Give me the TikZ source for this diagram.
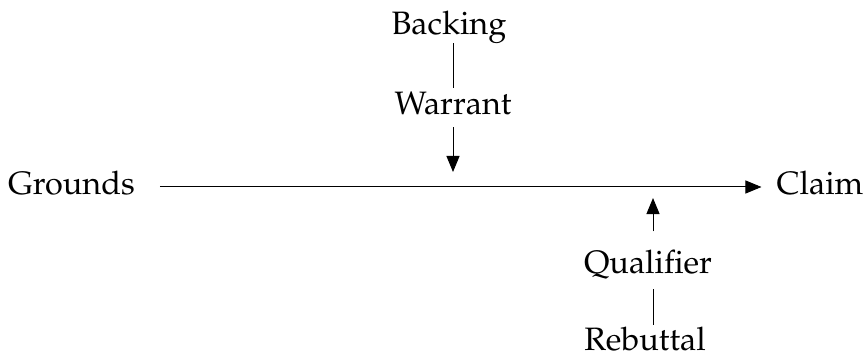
\documentclass[tikz,border=0pt]{standalone}
\usepackage[T1]{fontenc}
\usepackage{palatino}
\usetikzlibrary{arrows.meta}
\begin{document}
\begin{tikzpicture}[x=1pt,y=-1pt,
  lbl/.style={inner sep=0pt,anchor=base,font=\fontsize{32.4}{38}\selectfont},
  conn/.style={line width=1pt,black},
  arr/.style={conn,-{Triangle[width=13pt,length=16pt]}}]
\useasboundingbox (0,0) rectangle (864,358);
\node[lbl] (g) at (71.5,195) {Grounds};
\node[lbl] (c) at (820,195) {Claim};
\node[lbl] (b) at (449,35) {Backing};
\node[lbl] (w) at (453,115) {Warrant};
\node[lbl] (q) at (648,273) {Qualifier};
\node[lbl] (r) at (645,350) {Rebuttal};
\coordinate (wt) at (453,172);
\coordinate (qt) at (653,198);
\draw[arr,shorten <=25pt,shorten >=15pt] (g.east |- 0,187) -- (c.west |- 0,187);
\draw[conn,shorten <=-1pt,shorten >=4pt] (b.south -| wt) -- (w.north -| wt);
\draw[arr,shorten <=12pt] (w.south -| wt) -- (wt);
\draw[arr,shorten <=18pt] (q.north -| qt) -- (qt);
\draw[conn,shorten <=10pt,shorten >=1pt] (q.south -| qt) -- (r.north -| qt);
\end{tikzpicture}
\end{document}
